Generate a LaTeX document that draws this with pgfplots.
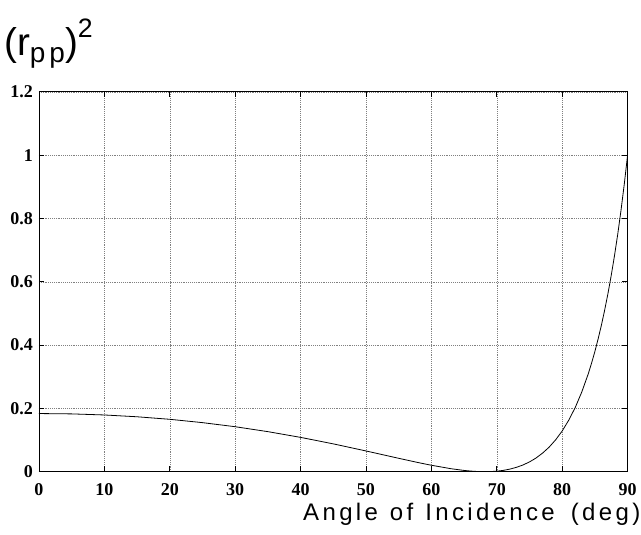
\documentclass[border=0pt]{standalone}
\usepackage{fontspec}
\setmainfont{Liberation Sans}
\newfontfamily\labfont[LetterSpace=14]{Liberation Sans}
\newfontfamily\tickfont{Liberation Serif}
\usepackage{pgfplots}
\pgfplotsset{compat=1.18}
\begin{document}
\begin{tikzpicture}
\begin{axis}[
    name=ax,
    scale only axis,
    width=441.75pt,
    height=285pt,
    xmin=0, xmax=90,
    ymin=0, ymax=1.2,
    xtick={0,10,20,30,40,50,60,70,80,90},
    ytick={0,0.2,0.4,0.6,0.8,1,1.2},
    grid=major,
    grid style={densely dotted, gray, line width=0.4pt},
    tick align=inside,
    major tick length=4pt,
    tick style={black, line width=0.7pt},
    axis line style={line width=0.7pt},
    /pgf/number format/assume math mode=true,
    ticklabel style={font=\tickfont\bfseries\fontsize{13.5}{14}\selectfont},
    xticklabel style={yshift=-5pt},
    yticklabel style={xshift=-1pt},
  ]
  \addplot[black, line width=0.6pt] coordinates {
    (0,0.1837) (5,0.1826) (10,0.1792) (15,0.1735) (20,0.1655) (25,0.1550)
    (30,0.1421) (35,0.1265) (40,0.1084) (45,0.0879) (50,0.0655) (55,0.0423)
    (58,0.0287) (60,0.0203) (63,0.0094) (65,0.0039) (66,0.0020) (67,0.0006)
    (68,0.0000) (69,0.0003) (70,0.0016) (71,0.0041) (72,0.0081) (73,0.0137)
    (74,0.0211) (75,0.0308) (76,0.0431) (77,0.0586) (78,0.0774) (79,0.1006)
    (80,0.1285) (81,0.1626) (82,0.2029) (83,0.2519) (84,0.3098) (84.5,0.3434)
    (85,0.3796) (85.5,0.4198) (86,0.4630) (86.5,0.5108) (87,0.5628) (87.5,0.6200)
    (88,0.6826) (88.5,0.7510) (89,0.8265) (89.5,0.9092) (90,1.0000)
  };
\end{axis}
\node[anchor=base east, inner sep=0pt, font=\labfont\fontsize{18}{20}\selectfont]
  at ([xshift=13*0.75pt, yshift=-49*0.75pt]ax.south east)
  {Angle\hspace{9pt}of\hspace{9pt}Incidence\hspace{12pt}(deg)};
\node[anchor=base west, inner sep=0pt, font=\fontsize{29}{32}\selectfont]
  at ([xshift=-35*0.75pt, yshift=36*0.75pt]ax.north west)
  {(r\raisebox{-0.3ex}{\fontsize{21}{21}\selectfont\labfont pp})\raisebox{0.9ex}{\fontsize{20}{20}\selectfont 2}};
\path ([xshift=-39*0.75pt, yshift=-63*0.75pt]ax.south west) rectangle ++(641*0.75pt, 535*0.75pt);
\end{tikzpicture}
\end{document}
